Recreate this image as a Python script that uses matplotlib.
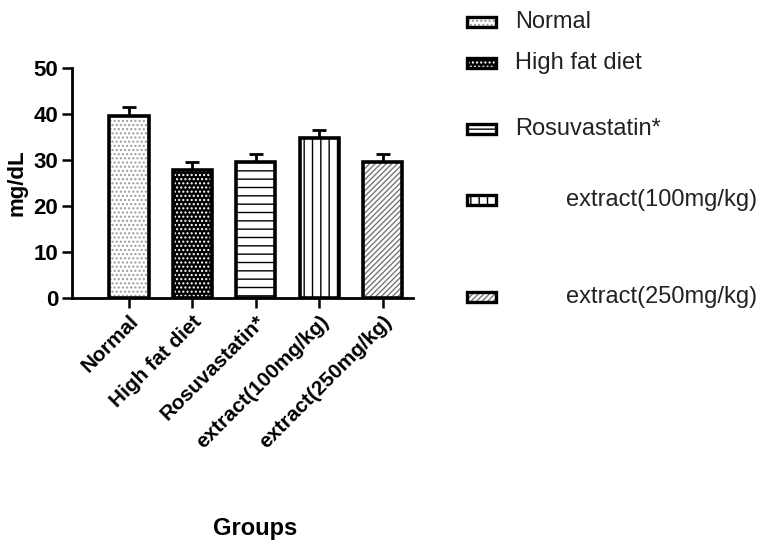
import numpy as np
import matplotlib.pyplot as plt
from matplotlib.patches import Rectangle

plt.rcParams['font.family'] = ['Liberation Sans', 'DejaVu Sans']
plt.rcParams['hatch.linewidth'] = 1.0

groups = ['Normal', 'High fat diet', 'Rosuvastatin*', 'extract(100mg/kg)', 'extract(250mg/kg)']
means = [39.5, 27.8, 29.5, 34.8, 29.5]
sem = [2.0, 1.7, 1.8, 1.7, 1.8]

# fill, hatch colour, hatch pattern per group
faces = ['white', 'black', 'white', 'white', 'white']
hatch_cols = ['#9a9a9a', 'white', 'black', 'black', '#777777']
hatches = ['....', '....', '--', '||', '//////']

fig = plt.figure(figsize=(7.63, 5.41), dpi=100)
W, H = 763, 541
ax = fig.add_axes([72 / W, 1 - 298 / H, (413 - 72) / W, (298 - 68) / H])

x = np.arange(len(groups))
bw = 0.62
# hatch layer first, then outline on top
ax.bar(x, means, bw, color=faces, edgecolor=hatch_cols, hatch=hatches, linewidth=0, zorder=2)
ax.bar(x, means, bw, fill=False, edgecolor='black', linewidth=2.6, zorder=3)
ax.errorbar(x, means, yerr=[np.zeros(len(sem)), sem], fmt='none', ecolor='black',
            elinewidth=2, capsize=5, capthick=2, zorder=1)

ax.set_xlim(-0.9, 4.48)
ax.set_ylim(0, 50)
ax.set_yticks([0, 10, 20, 30, 40, 50])
ax.set_xticks(x)
ax.set_xticklabels(groups, rotation=45, ha='right', va='top', rotation_mode='anchor',
                   fontsize=15, fontweight='bold')
for lab in ax.get_yticklabels():
    lab.set_fontsize(16)
    lab.set_fontweight('bold')
ax.tick_params(axis='both', width=1.8, length=7, pad=3)
for s in ['top', 'right']:
    ax.spines[s].set_visible(False)
for s in ['left', 'bottom']:
    ax.spines[s].set_linewidth(2)
ax.set_ylabel('mg/dL', fontsize=16, fontweight='bold', labelpad=4)
fig.text(255 / W, 1 - 528 / H, 'Groups', ha='center', va='center', fontsize=17, fontweight='bold')

# legend placed entry by entry
leg_y = [22, 63, 129, 200, 297]
leg_x = [515, 515, 515, 566, 566]
for i, g in enumerate(groups):
    yc = 1 - leg_y[i] / H
    fig.add_artist(Rectangle((467 / W, yc - 5 / H), 29 / W, 10 / H, transform=fig.transFigure,
                             facecolor=faces[i], edgecolor=hatch_cols[i], hatch=hatches[i],
                             linewidth=0))
    fig.add_artist(Rectangle((467 / W, yc - 5 / H), 29 / W, 10 / H, transform=fig.transFigure,
                             fill=False, edgecolor='black', linewidth=2.4))
    fig.text(leg_x[i] / W, yc, g, ha='left', va='center', fontsize=17, color='#222222')

fig.savefig('out.png', dpi=100)
